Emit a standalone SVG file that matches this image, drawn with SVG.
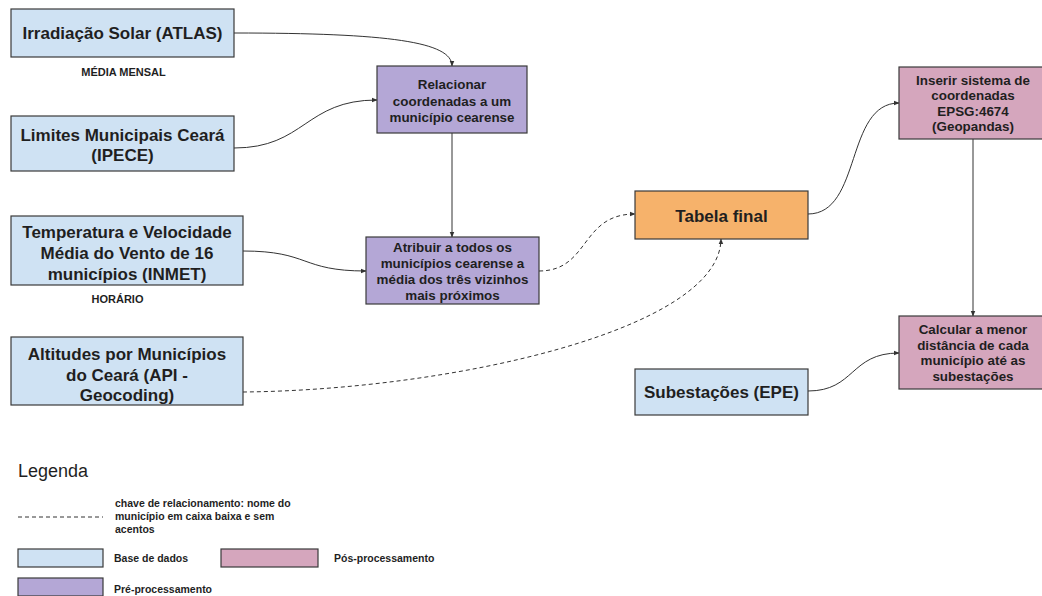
<svg xmlns="http://www.w3.org/2000/svg" width="1042" height="596" viewBox="0 0 1042 596">
<style>
  .box { stroke: #3a3a3a; stroke-width: 1.2; }
  .db { fill: #cfe2f3; }
  .pre { fill: #b4a7d6; }
  .pos { fill: #d5a6bd; }
  .fin { fill: #f6b26b; }
  .t17 { font-family: "Liberation Sans", Arial, sans-serif; font-size: 17px; font-weight: bold; fill: #1f1f1f; text-anchor: middle; }
  .t13 { font-family: "Liberation Sans", Arial, sans-serif; font-size: 13.4px; font-weight: bold; fill: #1f1f1f; text-anchor: middle; }
  .t11 { font-family: "Liberation Sans", Arial, sans-serif; font-size: 10.5px; font-weight: bold; fill: #1f1f1f; }
  .lg { font-family: "Liberation Sans", Arial, sans-serif; font-size: 18px; fill: #1f1f1f; }
  .c { fill: none; stroke: #333333; stroke-width: 1; }
  .d { stroke-dasharray: 4 3; }
</style>
<defs>
  <marker id="ah" viewBox="0 0 10 10" refX="9" refY="5" markerWidth="6" markerHeight="6" orient="auto" markerUnits="userSpaceOnUse">
    <path d="M0,1 L10,5 L0,9 z" fill="#333333"/>
  </marker>
</defs>

<g id="connectors">
  <path class="c" d="M234,33 C390,33 452,42 452,66" marker-end="url(#ah)"/>
  <path class="c" d="M234,148 C305,148 305,100 377,100" marker-end="url(#ah)"/>
  <path class="c" d="M452,133 L452,237" marker-end="url(#ah)"/>
  <path class="c" d="M243,251 C310,251 300,271 366,271" marker-end="url(#ah)"/>
  <path class="c d" d="M539,271 C590,271 580,214 635,214" marker-end="url(#ah)"/>
  <path class="c d" d="M243,392 C450,390 720,330 721,239" marker-end="url(#ah)"/>
  <path class="c" d="M808,214 C862,214 845,103 899,103" marker-end="url(#ah)"/>
  <path class="c" d="M973,139 L973,316" marker-end="url(#ah)"/>
  <path class="c" d="M808,391 C855,391 850,353 899,353" marker-end="url(#ah)"/>
</g>

<g id="irradiacao">
  <rect class="box db" x="11" y="9" width="223" height="48"/>
  <text class="t17" x="122.5" y="39">Irradiação Solar (ATLAS)</text>
</g>
<g id="media-mensal">
  <text class="t11" x="123.5" y="76" text-anchor="middle" style="font-size:11px">MÉDIA MENSAL</text>
</g>
<g id="limites">
  <rect class="box db" x="11" y="116" width="223" height="55"/>
  <text class="t17" x="122.5" y="141">Limites Municipais Ceará</text>
  <text class="t17" x="122.5" y="161">(IPECE)</text>
</g>
<g id="temperatura">
  <rect class="box db" x="11" y="216" width="232" height="69"/>
  <text class="t17" x="127" y="238">Temperatura e Velocidade</text>
  <text class="t17" x="127" y="259">Média do Vento de 16</text>
  <text class="t17" x="127" y="280">municípios (INMET)</text>
</g>
<g id="horario">
  <text class="t11" x="117.5" y="303" text-anchor="middle" style="font-size:11px">HORÁRIO</text>
</g>
<g id="altitudes">
  <rect class="box db" x="11" y="337" width="232" height="68"/>
  <text class="t17" x="127" y="360">Altitudes por Municípios</text>
  <text class="t17" x="127" y="381">do Ceará (API -</text>
  <text class="t17" x="127" y="401">Geocoding)</text>
</g>
<g id="relacionar">
  <rect class="box pre" x="377" y="66" width="150" height="67"/>
  <text class="t13" x="452" y="89">Relacionar</text>
  <text class="t13" x="452" y="105.5">coordenadas a um</text>
  <text class="t13" x="452" y="122">município cearense</text>
</g>
<g id="atribuir">
  <rect class="box pre" x="366" y="237" width="173" height="67"/>
  <text class="t13" x="452.5" y="252">Atribuir a todos os</text>
  <text class="t13" x="452.5" y="268">municípios cearense a</text>
  <text class="t13" x="452.5" y="284">média dos três vizinhos</text>
  <text class="t13" x="452.5" y="299.5">mais próximos</text>
</g>
<g id="tabela">
  <rect class="box fin" x="635" y="191" width="173" height="48"/>
  <text class="t17" x="721.5" y="222">Tabela final</text>
</g>
<g id="subestacoes">
  <rect class="box db" x="635" y="369" width="173" height="46"/>
  <text class="t17" x="721.5" y="398">Subestações (EPE)</text>
</g>
<g id="inserir">
  <rect class="box pos" x="899" y="67" width="148" height="72"/>
  <text class="t13" x="973" y="84.5">Inserir sistema de</text>
  <text class="t13" x="973" y="100">coordenadas</text>
  <text class="t13" x="973" y="115.5">EPSG:4674</text>
  <text class="t13" x="973" y="131">(Geopandas)</text>
</g>
<g id="calcular">
  <rect class="box pos" x="899" y="316" width="148" height="73"/>
  <text class="t13" x="973" y="334">Calcular a menor</text>
  <text class="t13" x="973" y="349.5">distância de cada</text>
  <text class="t13" x="973" y="365">município até as</text>
  <text class="t13" x="973" y="381">subestações</text>
</g>

<g id="legenda">
  <text class="lg" x="18" y="477">Legenda</text>
  <path class="c d" d="M18,517 L103,517"/>
  <text class="t11" x="115" y="507">chave de relacionamento: nome do</text>
  <text class="t11" x="115" y="520">município em caixa baixa e sem</text>
  <text class="t11" x="115" y="533">acentos</text>
  <rect class="box db" x="18" y="549" width="85" height="18"/>
  <text class="t11" x="114" y="562">Base de dados</text>
  <rect class="box pos" x="221" y="549" width="97" height="18"/>
  <text class="t11" x="334" y="562">Pós-processamento</text>
  <rect class="box pre" x="18" y="578" width="85" height="18"/>
  <text class="t11" x="114" y="593">Pré-processamento</text>
</g>
</svg>
